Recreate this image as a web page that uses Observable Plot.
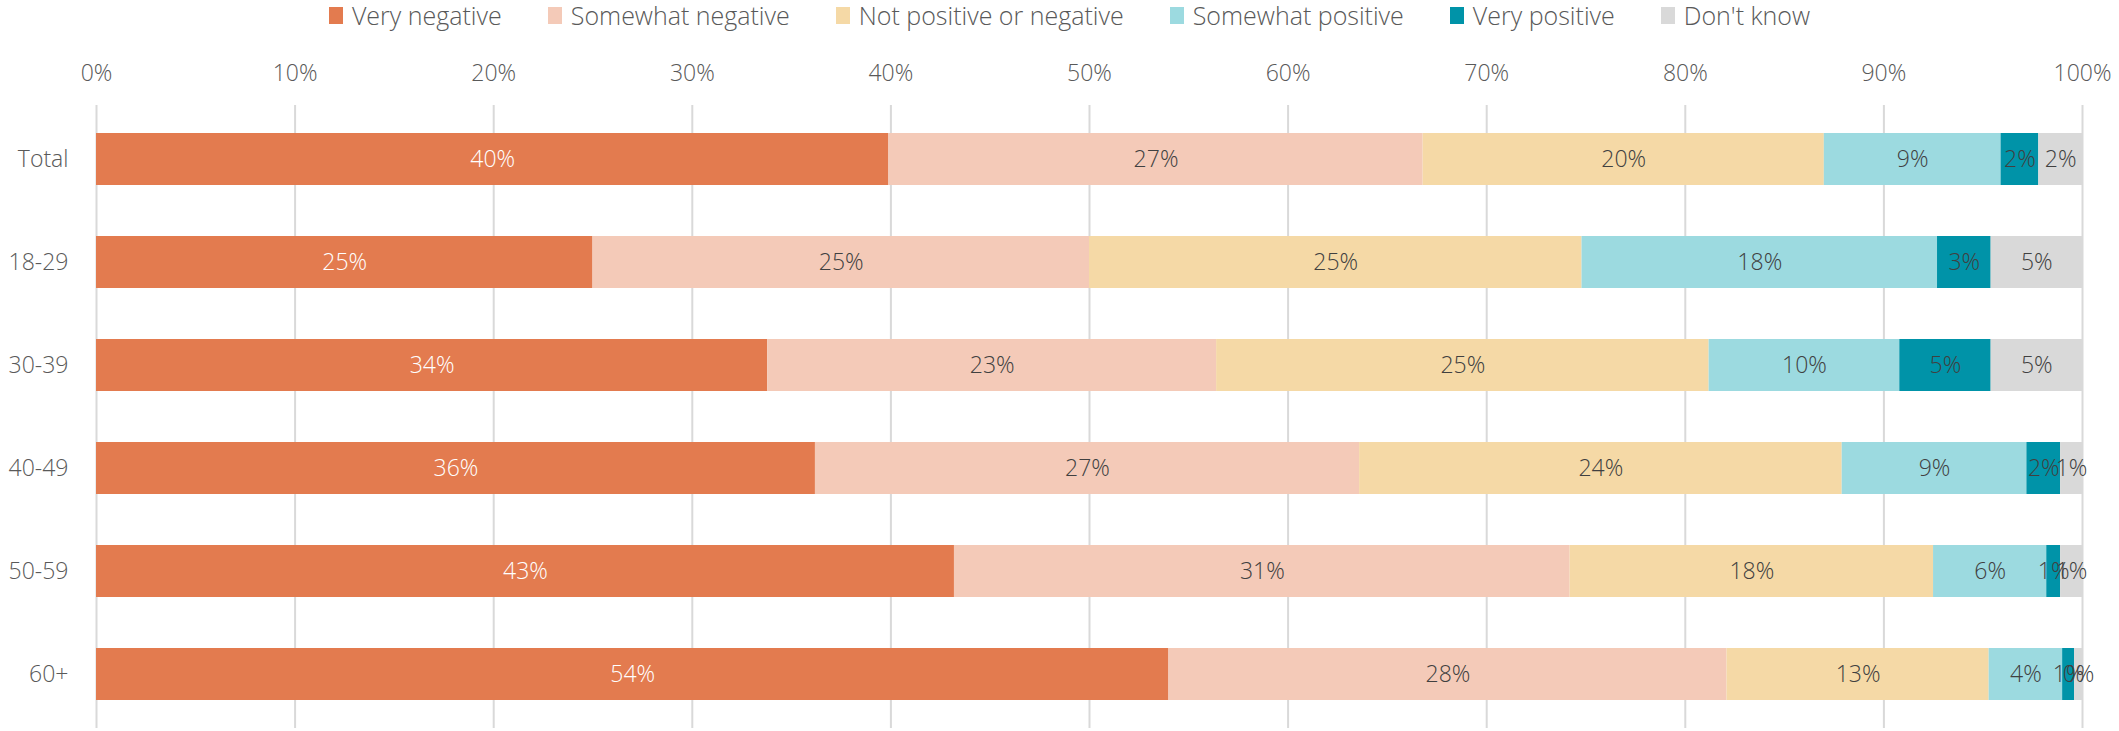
<!DOCTYPE html>
<html>
<head>
<meta charset="utf-8">
<script src="https://cdn.jsdelivr.net/npm/d3@7"></script>
<script src="https://cdn.jsdelivr.net/npm/@observablehq/plot@0.6"></script>
<style>
  html, body { margin: 0; padding: 0; background: #fff; overflow: hidden; }
  body { width: 2119px; height: 731px; font-family: "Open Sans", sans-serif; }
  #legend { height: 30px; display: flex; justify-content: center; align-items: center; gap: 46px; font-size: 25px; font-weight: 300; color: #595959; padding-left: 20px; }
  .item { display: flex; align-items: center; gap: 9px; white-space: nowrap; }
  .sw { width: 14px; height: 17px; display: inline-block; }
</style>
</head>
<body>
<div id="legend"></div>
<div id="chart"></div>
<script>
const groups = ["Total", "18-29", "30-39", "40-49", "50-59", "60+"];
const categories = ["Very negative", "Somewhat negative", "Not positive or negative", "Somewhat positive", "Very positive", "Don't know"];
const colors = ["#E37B4F", "#F4CAB8", "#F5D9A6", "#9CDAE0", "#0093A8", "#D9D9D9"];
const veryNegative        = [39.9, 25.0, 33.8, 36.2, 43.2, 54.0];
const somewhatNegative    = [26.9, 25.0, 22.6, 27.4, 31.0, 28.1];
const notPositiveNegative = [20.2, 24.8, 24.8, 24.3, 18.3, 13.2];
const somewhatPositive    = [ 8.9, 17.9,  9.6,  9.3,  5.7,  3.7];
const veryPositive        = [ 1.9,  2.7,  4.6,  1.7,  0.7,  0.6];
const dontKnow            = [ 2.2,  4.6,  4.6,  1.1,  1.1,  0.4];
const xTicks = [0, 10, 20, 30, 40, 50, 60, 70, 80, 90, 100];

const series = [veryNegative, somewhatNegative, notPositiveNegative, somewhatPositive, veryPositive, dontKnow];
const data = [];
groups.forEach((g, i) => {
  categories.forEach((c, j) => {
    data.push({group: g, category: c, value: series[j][i]});
  });
});

// Legend
const legend = document.getElementById("legend");
categories.forEach((c, j) => {
  const item = document.createElement("div");
  item.className = "item";
  const sw = document.createElement("span");
  sw.className = "sw";
  sw.style.background = colors[j];
  const t = document.createElement("span");
  t.textContent = c;
  item.appendChild(sw);
  item.appendChild(t);
  legend.appendChild(item);
});

const chart = Plot.plot({
  width: 2119,
  height: 701,
  marginLeft: 96,
  marginRight: 37,
  marginTop: 75,
  marginBottom: 3,
  style: {fontFamily: "'Open Sans', sans-serif", fontSize: "23px", fontWeight: 300, color: "#595959", background: "#fff"},
  x: {domain: [0, 100], label: null},
  y: {domain: groups, paddingInner: 0.5, paddingOuter: 0.25, label: null},
  color: {domain: categories, range: colors},
  marks: [
    Plot.ruleX(xTicks, {stroke: "#D9D9D9", strokeWidth: 2}),
    Plot.barX(data, {x: "value", y: "group", fill: "category"}),
    Plot.text(data, Plot.stackX({
      x: "value", y: "group", z: "category",
      text: d => Math.round(d.value) + "%",
      fill: d => d.category === "Very negative" ? "#ffffff" : "#404040",
      fontSize: 23
    })),
    Plot.axisX(xTicks, {anchor: "top", label: null, tickSize: 0, tickPadding: 25, tickFormat: d => d + "%", fontSize: 23, fill: "#595959"}),
    Plot.axisY({label: null, tickSize: 0, tickPadding: 28, fontSize: 23, fill: "#595959"})
  ]
});
document.getElementById("chart").appendChild(chart);
</script>
</body>
</html>
